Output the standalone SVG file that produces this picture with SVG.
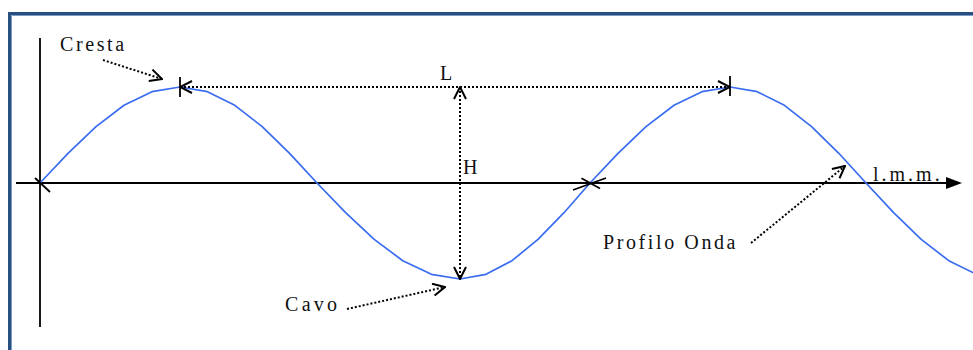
<svg xmlns="http://www.w3.org/2000/svg" width="973" height="350" viewBox="0 0 973 350">
<style>
.lbl{font-family:"Liberation Serif","Times New Roman",serif;font-size:20px;fill:#111;letter-spacing:2.6px}
.ax{stroke:#000;stroke-width:1.8;fill:none}
.tick{stroke:#000;stroke-width:1.8;fill:none}
.dot{stroke:#000;stroke-width:2;fill:none;stroke-dasharray:2 2}
.wave{stroke:#3a6cf0;stroke-width:1.7;fill:none;stroke-linejoin:round}
</style>
<defs>
<marker id="open" viewBox="0 0 14 14" markerWidth="14" markerHeight="14" refX="13" refY="7" orient="auto-start-reverse" markerUnits="userSpaceOnUse">
<path d="M1,1 L13,7 L1,13" fill="none" stroke="#000" stroke-width="2"/>
</marker>
</defs>
<rect width="973" height="350" fill="#fff"/>
<g id="frame">
<path d="M9.5,360 V13.5 H985" fill="none" stroke="#27507f" stroke-width="3"/>
<path d="M11.5,360 V15.5 H985" fill="none" stroke="#7d9bc6" stroke-width="1"/>
</g>
<g id="axes">
<line class="ax" x1="40" y1="38" x2="40" y2="327"/>
<line class="ax" x1="16" y1="183" x2="950" y2="183"/>
<polygon points="946,177 962,183 946,189" fill="#000"/>
</g>
<g id="wave">
<polyline class="wave" points="40,183 68,153.3 96,126.6 124,105.3 152,91.7 180,87 207.4,91.7 234.8,105.3 262.2,126.6 289.6,153.3 317,183 345.6,212.7 374.2,239.4 402.8,260.7 431.4,274.3 460,279 486,274.3 512,260.7 538,239.4 564,212.7 590,183 618,153.3 646,126.6 674,105.3 702,91.7 730,87 757.2,91.7 784.4,105.3 811.6,126.6 838.8,153.3 866,183 893.6,212.7 921.2,239.4 948.8,260.7 976.4,274.3"/>
</g>
<g id="ticks">
<line class="tick" x1="35" y1="178" x2="50" y2="192"/>
<line class="tick" x1="180" y1="77" x2="180" y2="97"/>
<line class="tick" x1="730" y1="76" x2="730" y2="96"/>
<line class="tick" x1="573" y1="190" x2="606" y2="178"/>
<line class="tick" x1="581.5" y1="178.3" x2="600" y2="188.5"/>
</g>
<g id="connectors">
<line class="dot" x1="180" y1="87" x2="730" y2="87" marker-start="url(#open)" marker-end="url(#open)"/>
<line class="dot" x1="460" y1="87" x2="460" y2="279" marker-start="url(#open)" marker-end="url(#open)"/>
<line class="dot" x1="103" y1="60" x2="162" y2="79" marker-end="url(#open)"/>
<line class="dot" x1="347" y1="309" x2="445" y2="287" marker-end="url(#open)"/>
<line class="dot" x1="751" y1="243" x2="845" y2="166" marker-end="url(#open)"/>
</g>
<g id="label-cresta"><text class="lbl" x="60" y="51">Cresta</text></g>
<g id="label-L"><text class="lbl" x="440" y="80">L</text></g>
<g id="label-H"><text class="lbl" x="463" y="174">H</text></g>
<g id="label-lmm"><text class="lbl" x="873" y="181" style="letter-spacing:3px">l.m.m.</text></g>
<g id="label-profilo"><text class="lbl" x="603" y="249">Profilo Onda</text></g>
<g id="label-cavo"><text class="lbl" x="285" y="311" style="letter-spacing:3.3px">Cavo</text></g>
</svg>
